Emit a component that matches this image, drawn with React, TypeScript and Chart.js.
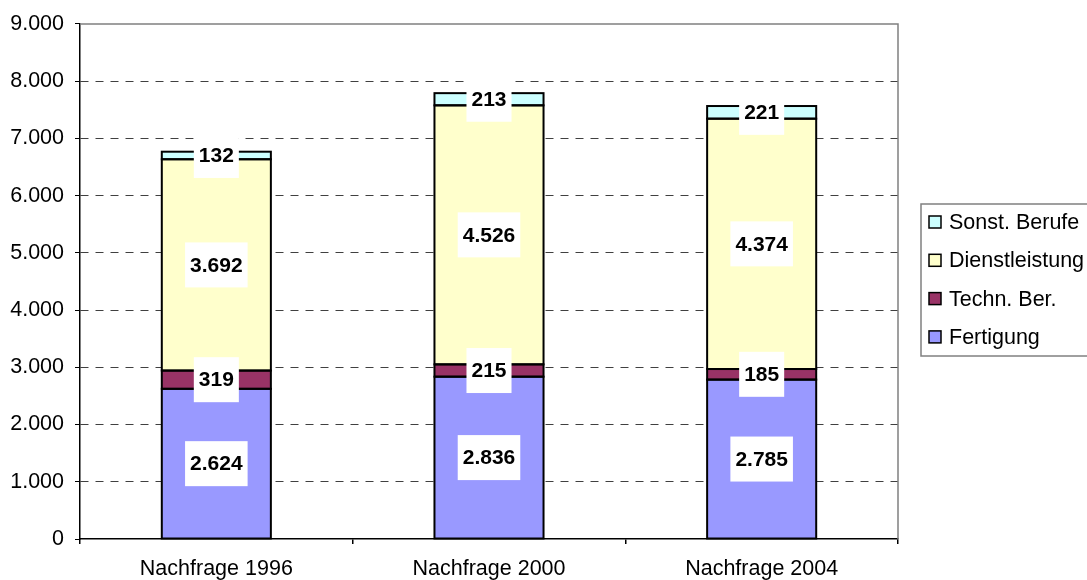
import React, { useEffect, useRef } from 'react';
import { Chart, registerables } from 'chart.js';

Chart.register(...registerables);

const categories = ['Nachfrage 1996', 'Nachfrage 2000', 'Nachfrage 2004'];
const seriesNames = ['Fertigung', 'Techn. Ber.', 'Dienstleistung', 'Sonst. Berufe'];
const fertigung = [2624, 2836, 2785];
const technBer = [319, 215, 185];
const dienstleistung = [3692, 4526, 4374];
const sonstBerufe = [132, 213, 221];
const seriesColors = ['#9999FF', '#993366', '#FFFFCC', '#CCFFFF'];
const yMin = 0;
const yMax = 9000;
const yStep = 1000;

const FONT = '"Liberation Sans", Arial, Helvetica, sans-serif';

const fmt = (v: number) => String(Math.round(v)).replace(/\B(?=(\d{3})+(?!\d))/g, '.');

const customPlugin = {
  id: 'customDecor',
  beforeDatasetsDraw(chart: any) {
    const { ctx, chartArea } = chart;
    ctx.save();
    ctx.strokeStyle = '#808080';
    ctx.lineWidth = 1.5;
    ctx.beginPath();
    ctx.moveTo(chartArea.left, chartArea.top);
    ctx.lineTo(chartArea.right, chartArea.top);
    ctx.lineTo(chartArea.right, chartArea.bottom);
    ctx.stroke();
    ctx.restore();
  },
  afterDatasetsDraw(chart: any) {
    const ctx = chart.ctx;
    ctx.save();
    // outlines of each segment (shared edges -> single lines)
    ctx.strokeStyle = '#000';
    ctx.lineWidth = 2;
    chart.data.datasets.forEach((ds: any, di: number) => {
      const meta = chart.getDatasetMeta(di);
      meta.data.forEach((bar: any) => {
        const { x, y, base, width } = bar.getProps(['x', 'y', 'base', 'width'], true);
        ctx.strokeRect(x - width / 2, Math.min(y, base), width, Math.abs(base - y));
      });
    });
    ctx.font = 'bold 21px ' + FONT;
    ctx.textAlign = 'center';
    ctx.textBaseline = 'middle';
    chart.data.datasets.forEach((ds: any, di: number) => {
      const meta = chart.getDatasetMeta(di);
      meta.data.forEach((bar: any, i: number) => {
        const { x, y, base } = bar.getProps(['x', 'y', 'base'], true);
        const cy = (y + base) / 2;
        const text = fmt(ds.data[i]);
        const w = ctx.measureText(text).width + 10;
        const h = 45;
        ctx.fillStyle = '#ffffff';
        ctx.fillRect(x - w / 2, cy - h / 2, w, h);
        ctx.fillStyle = '#000000';
        ctx.fillText(text, x, cy + 1);
      });
    });
    ctx.restore();
  },
  afterDraw(chart: any) {
    const { ctx, chartArea } = chart;
    ctx.save();
    const lx = chartArea.right + 23;
    const ly = 204;
    const lw = 180;
    const lh = 152;
    ctx.fillStyle = '#ffffff';
    ctx.fillRect(lx, ly, lw, lh);
    ctx.strokeStyle = '#808080';
    ctx.lineWidth = 1.5;
    ctx.strokeRect(lx, ly, lw, lh);
    ctx.font = '21.5px ' + FONT;
    ctx.textBaseline = 'middle';
    ctx.textAlign = 'left';
    const order = [3, 2, 1, 0];
    order.forEach((si, k) => {
      const cy = 222 + k * 38.3;
      ctx.fillStyle = seriesColors[si];
      ctx.fillRect(lx + 8, cy - 6, 12, 12);
      ctx.strokeStyle = '#000';
      ctx.lineWidth = 1.5;
      ctx.strokeRect(lx + 8, cy - 6, 12, 12);
      ctx.fillStyle = '#000';
      ctx.fillText(seriesNames[si], lx + 28, cy + 1);
    });
    ctx.restore();
  },
};

export default function App() {
  const ref = useRef<HTMLCanvasElement | null>(null);
  useEffect(() => {
    if (!ref.current) return;
    const values = [fertigung, technBer, dienstleistung, sonstBerufe];
    const chart = new Chart(ref.current, {
      type: 'bar',
      data: {
        labels: categories,
        datasets: values.map((d, i) => ({
          label: seriesNames[i],
          data: d,
          backgroundColor: seriesColors[i],
          borderWidth: 0,
          categoryPercentage: 1,
          barPercentage: 0.4,
        })),
      },
      options: {
        animation: false,
        responsive: true,
        maintainAspectRatio: false,
        layout: { padding: { left: 0, top: 22, right: 189, bottom: 0 } },
        plugins: {
          legend: { display: false },
          tooltip: { enabled: false },
        },
        scales: {
          x: {
            stacked: true,
            offset: true,
            afterFit: (s: any) => { s.height = 41; },
            grid: {
              offset: true,
              drawOnChartArea: false,
              drawTicks: true,
              tickLength: 5,
              color: '#000',
              tickColor: '#000',
              lineWidth: 1.5,
            },
            border: { color: '#000', width: 1.5 },
            ticks: {
              color: '#000',
              padding: 12,
              font: { family: FONT, size: 21.5 },
            },
          },
          y: {
            stacked: true,
            min: yMin,
            max: yMax,
            afterFit: (s: any) => { s.width = 80; },
            grid: {
              color: (c: any) => (c.tick && (c.tick.value === yMin || c.tick.value === yMax) ? 'rgba(0,0,0,0)' : '#404040'),
              tickColor: '#000',
              tickLength: 5,
              lineWidth: 1,
            },
            border: { color: '#000', width: 1.5, dash: [8, 7] },
            ticks: {
              stepSize: yStep,
              color: '#000',
              padding: 11,
              font: { family: FONT, size: 21.5 },
              callback: (v: any) => fmt(Number(v)),
            },
          },
        },
      },
      plugins: [customPlugin],
    });
    return () => chart.destroy();
  }, []);
  return (
    <div style={{ position: 'fixed', left: 0, top: 0, width: 1087, height: 580, background: '#fff' }}>
      <canvas ref={ref} />
    </div>
  );
}
